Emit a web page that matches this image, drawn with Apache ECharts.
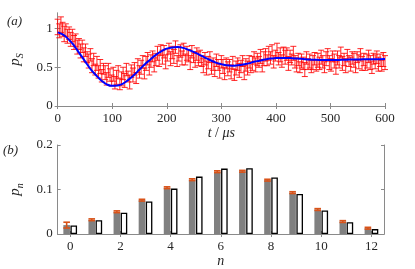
<!DOCTYPE html>
<html><head><meta charset="utf-8">
<script src="https://cdn.jsdelivr.net/npm/echarts@6/dist/echarts.min.js"></script>
<style>html,body{margin:0;padding:0;background:#fff}#c{width:415px;height:269px}</style>
</head><body><div id="c"></div>
<script>
// Panel (a): measured p_S with error bars: [t (µs), value, half error]
const measured = [
[0,1.02,0.10],[3,0.97,0.09],[6,1.05,0.10],[9,0.99,0.09],[12,0.93,0.10],[15,0.98,0.08],[18,0.90,0.09],[21,0.94,0.08],
[24,0.86,0.09],[27,0.91,0.08],[30,0.82,0.09],[33,0.85,0.08],[36,0.76,0.09],[39,0.80,0.07],[42,0.71,0.09],[45,0.77,0.08],
[48,0.66,0.09],[51,0.72,0.08],[54,0.63,0.07],[57,0.58,0.09],[60,0.66,0.08],[63,0.52,0.09],[66,0.60,0.08],[69,0.47,0.07],
[72,0.55,0.09],[75,0.44,0.08],[78,0.51,0.09],[81,0.39,0.08],[84,0.48,0.07],[87,0.43,0.09],[90,0.35,0.08],[93,0.46,0.09],
[96,0.40,0.08],[99,0.33,0.07],[102,0.41,0.09],[105,0.30,0.08],[108,0.37,0.09],[111,0.44,0.08],[114,0.28,0.07],[117,0.35,0.09],
[120,0.42,0.08],[123,0.33,0.09],[126,0.47,0.08],[129,0.38,0.07],[132,0.31,0.09],[135,0.45,0.08],[138,0.40,0.09],[141,0.48,0.08],
[144,0.36,0.07],[147,0.52,0.09],[150,0.44,0.08],[153,0.50,0.09],[156,0.57,0.08],[159,0.42,0.07],[162,0.55,0.09],[165,0.61,0.08],
[168,0.49,0.09],[171,0.58,0.08],[174,0.64,0.07],[177,0.53,0.09],[180,0.60,0.08],[183,0.68,0.09],[186,0.59,0.08],[189,0.72,0.07],
[192,0.63,0.09],[195,0.70,0.08],[198,0.57,0.09],[201,0.66,0.08],[204,0.74,0.07],[207,0.61,0.09],[210,0.69,0.08],[213,0.64,0.09],
[216,0.76,0.08],[219,0.58,0.07],[222,0.67,0.09],[225,0.71,0.08],[228,0.62,0.09],[231,0.73,0.08],[234,0.60,0.07],[237,0.68,0.09],
[240,0.65,0.08],[243,0.56,0.09],[246,0.70,0.08],[249,0.63,0.07],[252,0.59,0.09],[255,0.67,0.08],[258,0.61,0.09],[261,0.64,0.08],
[264,0.58,0.07],[267,0.52,0.09],[270,0.61,0.08],[273,0.49,0.09],[276,0.56,0.08],[279,0.63,0.07],[282,0.50,0.09],[285,0.54,0.08],
[288,0.47,0.09],[291,0.59,0.08],[294,0.53,0.07],[297,0.45,0.09],[300,0.57,0.08],[303,0.51,0.09],[306,0.42,0.08],[309,0.55,0.07],
[312,0.48,0.09],[315,0.52,0.08],[318,0.44,0.09],[321,0.56,0.08],[324,0.40,0.07],[327,0.49,0.09],[330,0.54,0.08],[333,0.46,0.09],
[336,0.51,0.08],[339,0.58,0.07],[342,0.43,0.09],[345,0.53,0.08],[348,0.49,0.09],[351,0.57,0.08],[354,0.50,0.07],[357,0.55,0.09],
[360,0.62,0.08],[363,0.53,0.09],[366,0.60,0.08],[369,0.57,0.07],[372,0.64,0.09],[375,0.52,0.08],[378,0.61,0.09],[381,0.66,0.08],
[384,0.59,0.07],[387,0.68,0.09],[390,0.62,0.08],[393,0.70,0.09],[396,0.57,0.08],[399,0.65,0.07],[402,0.72,0.09],[405,0.61,0.08],
[408,0.66,0.09],[411,0.58,0.08],[414,0.69,0.07],[417,0.63,0.09],[420,0.67,0.08],[423,0.55,0.09],[426,0.64,0.08],[429,0.60,0.07],
[432,0.68,0.09],[435,0.57,0.08],[438,0.53,0.09],[441,0.60,0.08],[444,0.50,0.07],[447,0.58,0.09],[450,0.55,0.08],[453,0.47,0.09],
[456,0.62,0.08],[459,0.54,0.07],[462,0.58,0.09],[465,0.51,0.08],[468,0.56,0.09],[471,0.61,0.08],[474,0.52,0.07],[477,0.59,0.09],
[480,0.55,0.08],[483,0.63,0.09],[486,0.57,0.08],[489,0.50,0.07],[492,0.61,0.09],[495,0.66,0.08],[498,0.56,0.09],[501,0.53,0.08],
[504,0.64,0.07],[507,0.58,0.09],[510,0.49,0.08],[513,0.62,0.09],[516,0.57,0.08],[519,0.69,0.07],[522,0.55,0.09],[525,0.60,0.08],
[528,0.52,0.09],[531,0.65,0.08],[534,0.58,0.07],[537,0.54,0.09],[540,0.62,0.08],[543,0.59,0.09],[546,0.51,0.08],[549,0.63,0.07],
[552,0.57,0.09],[555,0.66,0.08],[558,0.55,0.09],[561,0.60,0.08],[564,0.53,0.07],[567,0.58,0.09],[570,0.64,0.08],[573,0.56,0.09],
[576,0.50,0.08],[579,0.61,0.07],[582,0.57,0.09],[585,0.63,0.08],[588,0.54,0.09],[591,0.59,0.08],[594,0.52,0.07],[597,0.60,0.09],
[600,0.56,0.09]
];
// Panel (a): fitted curve
const fitT = [0,10,20,30,40,50,60,70,80,90,100,110,120,130,140,150,160,170,180,190,200,210,220,230,240,250,260,270,280,290,300,
  310,320,330,340,350,360,370,380,390,400,410,420,430,440,450,460,470,480,490,500,510,520,530,540,550,560,570,580,590,600];
const fitV = [0.95,0.92,0.86,0.78,0.68,0.58,0.48,0.40,0.33,0.28,0.26,0.265,0.29,0.34,0.40,0.47,0.54,0.60,0.66,0.705,0.74,
  0.755,0.76,0.75,0.725,0.695,0.66,0.625,0.59,0.56,0.54,0.525,0.52,0.525,0.535,0.55,0.57,0.585,0.60,0.612,0.618,0.62,0.62,
  0.617,0.612,0.606,0.60,0.597,0.594,0.593,0.593,0.594,0.596,0.598,0.60,0.601,0.602,0.603,0.603,0.604,0.605];
// Panel (b)
const nCats = ['0','1','2','3','4','5','6','7','8','9','10','11','12'];
const pMeasured = [0.020,0.032,0.050,0.076,0.104,0.122,0.140,0.141,0.121,0.093,0.055,0.028,0.013];
const pErr = [0.0065,0.002,0.002,0.002,0.002,0.002,0.002,0.002,0.002,0.002,0.002,0.002,0.002];
const pTheory = [0.019,0.031,0.048,0.073,0.102,0.129,0.147,0.148,0.127,0.090,0.053,0.0265,0.011];
const ticksA = [0,0.5,1];

const FONT = 'Liberation Serif';
const AX = '#8a8a8a', TXT = '#262626';
const chart = echarts.init(document.getElementById('c'), null, {renderer:'canvas'});
const lblStyle = {color:TXT, fontFamily:FONT, fontSize:13};
function frameAxis(extra){ return Object.assign({axisLine:{show:true,lineStyle:{color:AX,width:1}},
  axisTick:{show:true,inside:true,length:3,lineStyle:{color:AX}}, splitLine:{show:false}}, extra); }
const nameRich = {i:{fontStyle:'italic',fontFamily:FONT,fontSize:15,color:TXT,lineHeight:20,verticalAlign:'middle'},
  s:{fontStyle:'italic',fontFamily:FONT,fontSize:10,color:TXT,lineHeight:20,verticalAlign:'bottom'}};

const BW = 6.6, GAPPX = 0.5;
chart.setOption({
  animation:false,
  grid:[{left:54,top:13,width:331,height:93},{left:54,top:145,width:330,height:91}],
  xAxis:[
    frameAxis({gridIndex:0,type:'value',min:0,max:600,interval:100,position:'bottom',
      axisLabel:Object.assign({margin:6},lblStyle),
      name:'{i|t} / {i|μs}',nameLocation:'middle',nameGap:18,
      nameTextStyle:{color:TXT,fontFamily:FONT,fontSize:14,rich:{i:{fontStyle:'italic',fontFamily:FONT,fontSize:14,color:TXT}}}}),
    frameAxis({gridIndex:0,type:'value',min:0,max:600,interval:100,position:'top',axisLabel:{show:false}}),
    frameAxis({gridIndex:1,type:'category',data:nCats,position:'bottom',boundaryGap:true,
      axisLabel:Object.assign({margin:6,interval:1},lblStyle),
      axisTick:{show:true,inside:true,length:3,interval:1,alignWithLabel:true,lineStyle:{color:AX}},
      name:'n',nameLocation:'middle',nameGap:20,
      nameTextStyle:{color:TXT,fontFamily:FONT,fontSize:14,fontStyle:'italic'}}),
    frameAxis({gridIndex:1,type:'category',data:nCats,position:'top',boundaryGap:true,axisLabel:{show:false},
      axisTick:{show:true,inside:true,length:3,interval:1,alignWithLabel:true,lineStyle:{color:AX}}})
  ],
  yAxis:[
    frameAxis({gridIndex:0,type:'value',min:0,max:1.2,position:'left',
      axisLabel:Object.assign({margin:5,customValues:ticksA},lblStyle),
      axisTick:{show:true,inside:true,length:3,customValues:ticksA,lineStyle:{color:AX}},
      name:'{i|p}{s|S}',nameLocation:'middle',nameGap:23,nameRotate:90,nameTextStyle:{rich:nameRich}}),
    frameAxis({gridIndex:0,type:'value',min:0,max:1.2,position:'right',axisLabel:{show:false},
      axisTick:{show:true,inside:true,length:3,customValues:ticksA,lineStyle:{color:AX}}}),
    frameAxis({gridIndex:1,type:'value',min:0,max:0.2,interval:0.1,position:'left',
      axisLabel:Object.assign({margin:5},lblStyle),
      name:'{i|p}{s|n}',nameLocation:'middle',nameGap:23,nameRotate:90,nameTextStyle:{rich:nameRich}}),
    frameAxis({gridIndex:1,type:'value',min:0,max:0.2,interval:0.1,position:'right',axisLabel:{show:false}})
  ],
  graphic:[
    {type:'text',left:7,top:15,style:{text:'(a)',font:'italic 13px "Liberation Serif"',fill:TXT}},
    {type:'text',left:3,top:144,style:{text:'(b)',font:'italic 13px "Liberation Serif"',fill:TXT}}
  ],
  series:[
    {type:'custom',xAxisIndex:0,yAxisIndex:0,data:measured,z:2,silent:true,
     renderItem:function(params,api){
       const x=api.value(0),y=api.value(1),e=api.value(2);
       const a=api.coord([x,y+e]),b=api.coord([x,y-e]);
       const st={stroke:'rgba(255,0,0,0.85)',lineWidth:1};
       return {type:'group',children:[
         {type:'line',shape:{x1:a[0],y1:a[1],x2:b[0],y2:b[1]},style:st},
         {type:'line',shape:{x1:a[0]-3,y1:a[1],x2:a[0]+3,y2:a[1]},style:st},
         {type:'line',shape:{x1:b[0]-3,y1:b[1],x2:b[0]+3,y2:b[1]},style:st}
       ]};
     }},
    {type:'line',xAxisIndex:0,yAxisIndex:0,data:fitT.map((t,i)=>[t,fitV[i]]),smooth:true,showSymbol:false,z:5,
     lineStyle:{color:'#0000ff',width:2},silent:true},
    {type:'bar',xAxisIndex:2,yAxisIndex:2,data:pMeasured,barWidth:BW,barGap:(GAPPX/BW*100)+'%',
     itemStyle:{color:'#808080'},silent:true},
    {type:'bar',xAxisIndex:2,yAxisIndex:2,data:pTheory,barWidth:BW,
     itemStyle:{color:'#ffffff',borderColor:'#000000',borderWidth:1.3},silent:true},
    {type:'custom',xAxisIndex:2,yAxisIndex:2,data:pMeasured.map((v,i)=>[i,v,pErr[i]]),z:6,silent:true,
     renderItem:function(params,api){
       const i=api.value(0),v=api.value(1),e=api.value(2);
       const off=-(BW+GAPPX)/2;
       const a=api.coord([i,v+e]),b=api.coord([i,v-e]);
       const st={stroke:'#d95319',lineWidth:1.6};
       const hw=BW/2;
       return {type:'group',children:[
         {type:'line',shape:{x1:a[0]+off,y1:a[1],x2:b[0]+off,y2:b[1]},style:st},
         {type:'line',shape:{x1:a[0]+off-hw,y1:a[1],x2:a[0]+off+hw,y2:a[1]},style:st},
         {type:'line',shape:{x1:b[0]+off-hw,y1:b[1],x2:b[0]+off+hw,y2:b[1]},style:st}
       ]};
     }}
  ]
});
</script></body></html>
